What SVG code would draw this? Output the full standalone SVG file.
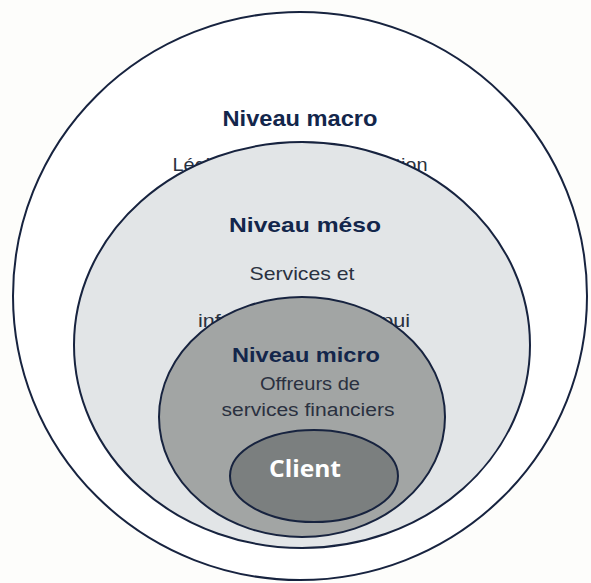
<svg xmlns="http://www.w3.org/2000/svg" width="591" height="583" viewBox="0 0 591 583">
  <style>
    .ring { stroke: #17233f; stroke-width: 2; }
    .title { font-family: "Liberation Sans", Arial, sans-serif; font-weight: bold; fill: #13264b; text-anchor: middle; }
    .sub { font-family: "Liberation Sans", Arial, sans-serif; fill: #2a3140; text-anchor: middle; }
    .client { font-family: "Open Sans", "Liberation Sans", sans-serif; font-weight: bold; fill: #ffffff; text-anchor: middle; }
  </style>
  <rect x="0" y="0" width="591" height="583" fill="#fdfdfb"/>

  <!-- outer level: macro -->
  <g id="macro">
    <ellipse class="ring" cx="300" cy="296" rx="287" ry="284" fill="#ffffff"/>
    <text class="title" x="300" y="126" font-size="22" textLength="155" lengthAdjust="spacingAndGlyphs">Niveau macro</text>
    <text class="sub" x="300" y="171" font-size="19" textLength="255" lengthAdjust="spacingAndGlyphs">Législation et réglementation</text>
  </g>

  <!-- middle level: meso -->
  <g id="meso">
    <ellipse class="ring" cx="302" cy="345" rx="228" ry="203" fill="#e2e5e7"/>
    <text class="title" x="305" y="232" font-size="21" textLength="152" lengthAdjust="spacingAndGlyphs">Niveau méso</text>
    <text class="sub" x="302" y="280" font-size="19" textLength="105" lengthAdjust="spacingAndGlyphs">Services et</text>
    <text class="sub" x="304" y="327" font-size="19" textLength="212" lengthAdjust="spacingAndGlyphs">infrastructures d'appui</text>
  </g>

  <!-- inner level: micro -->
  <g id="micro">
    <ellipse class="ring" cx="302" cy="417" rx="143" ry="120" fill="#a2a5a4"/>
    <text class="title" x="306" y="362" font-size="21" textLength="148" lengthAdjust="spacingAndGlyphs">Niveau micro</text>
    <text class="sub" x="310" y="390" font-size="18" textLength="100" lengthAdjust="spacingAndGlyphs">Offreurs de</text>
    <text class="sub" x="308" y="416" font-size="18" textLength="173" lengthAdjust="spacingAndGlyphs">services financiers</text>
  </g>

  <!-- core: client -->
  <g id="client">
    <ellipse class="ring" cx="314" cy="476" rx="84" ry="46" fill="#7b7f7f"/>
    <text class="client" x="305" y="477" font-size="23" textLength="72" lengthAdjust="spacingAndGlyphs">Client</text>
  </g>
</svg>
